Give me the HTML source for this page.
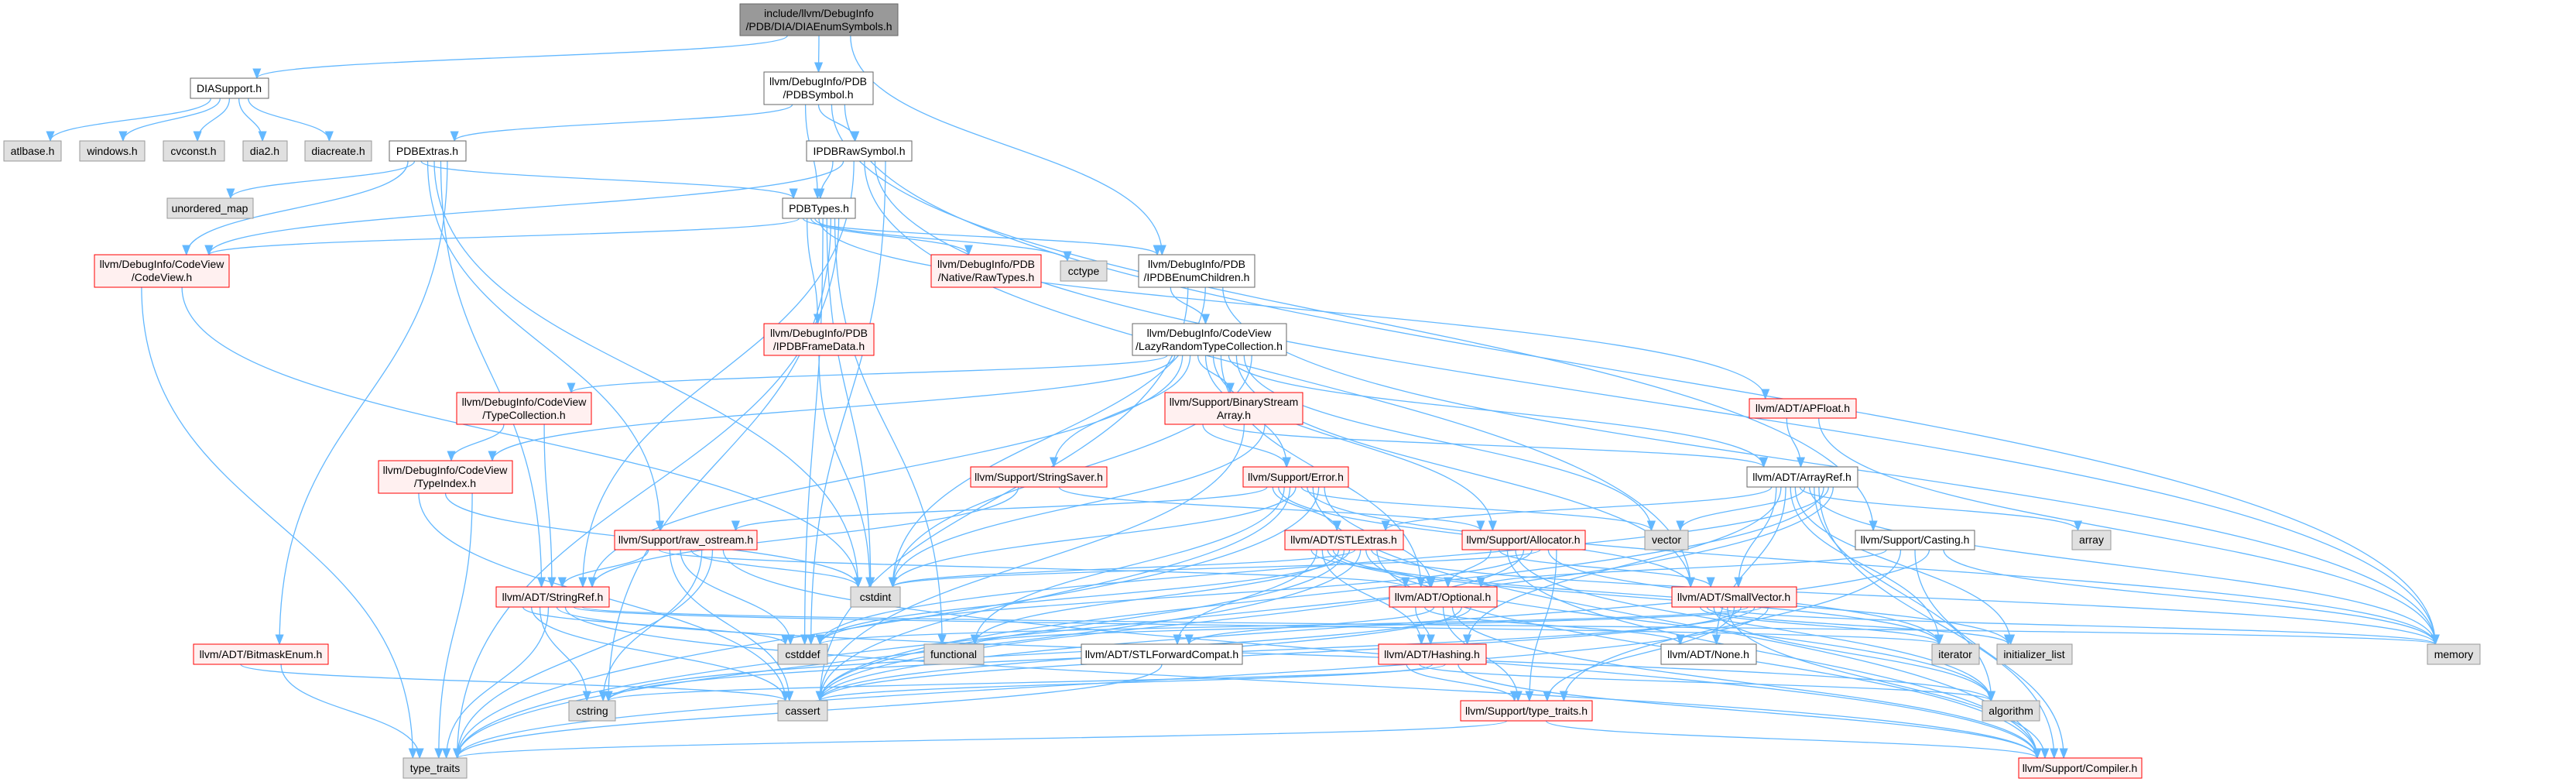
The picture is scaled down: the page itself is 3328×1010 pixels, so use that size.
<!DOCTYPE html>
<html><head><meta charset="utf-8"><style>
html,body{margin:0;padding:0;background:#fff;}
svg{display:block;}
text{font-family:"Liberation Sans",Arial,sans-serif;font-size:14px;fill:#000;}
</style></head><body>
<svg id="g" xmlns="http://www.w3.org/2000/svg" width="3328" height="1010" viewBox="0 0 3328 1010">
<defs><marker id="ah" viewBox="0 0 10 10" refX="9" refY="5" markerWidth="14" markerHeight="14" markerUnits="userSpaceOnUse" orient="auto"><path d="M0,1 L10,5 L0,9 z" fill="#63b8ff"/></marker></defs>
<g id="edges" fill="none" stroke="#63b8ff" stroke-width="1.3"></g>
<g id="nodes">
<rect x="956" y="5" width="204" height="41" fill="#999" stroke="#666"/><text x="1058" y="22" text-anchor="middle">include/llvm/DebugInfo</text><text x="1058" y="39" text-anchor="middle">/PDB/DIA/DIAEnumSymbols.h</text>
<rect x="246" y="101" width="101" height="26" fill="#fff" stroke="#666"/><text x="296" y="119" text-anchor="middle">DIASupport.h</text>
<rect x="987" y="93" width="141" height="42" fill="#fff" stroke="#666"/><text x="1057" y="110" text-anchor="middle">llvm/DebugInfo/PDB</text><text x="1057" y="127" text-anchor="middle">/PDBSymbol.h</text>
<rect x="5" y="182" width="74" height="26" fill="#e0e0e0" stroke="#999"/><text x="42" y="200" text-anchor="middle">atlbase.h</text>
<rect x="103" y="182" width="84" height="26" fill="#e0e0e0" stroke="#999"/><text x="145" y="200" text-anchor="middle">windows.h</text>
<rect x="211" y="182" width="79" height="26" fill="#e0e0e0" stroke="#999"/><text x="250" y="200" text-anchor="middle">cvconst.h</text>
<rect x="314" y="182" width="57" height="26" fill="#e0e0e0" stroke="#999"/><text x="342" y="200" text-anchor="middle">dia2.h</text>
<rect x="394" y="182" width="86" height="26" fill="#e0e0e0" stroke="#999"/><text x="437" y="200" text-anchor="middle">diacreate.h</text>
<rect x="503" y="182" width="99" height="26" fill="#fff" stroke="#666"/><text x="552" y="200" text-anchor="middle">PDBExtras.h</text>
<rect x="1042" y="182" width="136" height="26" fill="#fff" stroke="#666"/><text x="1110" y="200" text-anchor="middle">IPDBRawSymbol.h</text>
<rect x="216" y="256" width="111" height="26" fill="#e0e0e0" stroke="#999"/><text x="271" y="274" text-anchor="middle">unordered_map</text>
<rect x="1011" y="256" width="94" height="26" fill="#fff" stroke="#666"/><text x="1058" y="274" text-anchor="middle">PDBTypes.h</text>
<rect x="122" y="329" width="174" height="42" fill="#fff0f0" stroke="#f00"/><text x="209" y="346" text-anchor="middle">llvm/DebugInfo/CodeView</text><text x="209" y="363" text-anchor="middle">/CodeView.h</text>
<rect x="1203" y="329" width="142" height="42" fill="#fff0f0" stroke="#f00"/><text x="1274" y="346" text-anchor="middle">llvm/DebugInfo/PDB</text><text x="1274" y="363" text-anchor="middle">/Native/RawTypes.h</text>
<rect x="1370" y="337" width="60" height="26" fill="#e0e0e0" stroke="#999"/><text x="1400" y="355" text-anchor="middle">cctype</text>
<rect x="1471" y="329" width="150" height="42" fill="#fff" stroke="#666"/><text x="1546" y="346" text-anchor="middle">llvm/DebugInfo/PDB</text><text x="1546" y="363" text-anchor="middle">/IPDBEnumChildren.h</text>
<rect x="987" y="418" width="142" height="41" fill="#fff0f0" stroke="#f00"/><text x="1058" y="435" text-anchor="middle">llvm/DebugInfo/PDB</text><text x="1058" y="452" text-anchor="middle">/IPDBFrameData.h</text>
<rect x="1463" y="418" width="199" height="41" fill="#fff" stroke="#666"/><text x="1562" y="435" text-anchor="middle">llvm/DebugInfo/CodeView</text><text x="1562" y="452" text-anchor="middle">/LazyRandomTypeCollection.h</text>
<rect x="590" y="507" width="174" height="41" fill="#fff0f0" stroke="#f00"/><text x="677" y="524" text-anchor="middle">llvm/DebugInfo/CodeView</text><text x="677" y="541" text-anchor="middle">/TypeCollection.h</text>
<rect x="489" y="595" width="173" height="42" fill="#fff0f0" stroke="#f00"/><text x="575" y="612" text-anchor="middle">llvm/DebugInfo/CodeView</text><text x="575" y="629" text-anchor="middle">/TypeIndex.h</text>
<rect x="1505" y="507" width="178" height="41" fill="#fff0f0" stroke="#f00"/><text x="1594" y="524" text-anchor="middle">llvm/Support/BinaryStream</text><text x="1594" y="541" text-anchor="middle">Array.h</text>
<rect x="2260" y="515" width="138" height="25" fill="#fff0f0" stroke="#f00"/><text x="2329" y="532" text-anchor="middle">llvm/ADT/APFloat.h</text>
<rect x="1254" y="603" width="176" height="26" fill="#fff0f0" stroke="#f00"/><text x="1342" y="621" text-anchor="middle">llvm/Support/StringSaver.h</text>
<rect x="1606" y="603" width="136" height="26" fill="#fff0f0" stroke="#f00"/><text x="1674" y="621" text-anchor="middle">llvm/Support/Error.h</text>
<rect x="2257" y="603" width="143" height="26" fill="#fff" stroke="#666"/><text x="2328" y="621" text-anchor="middle">llvm/ADT/ArrayRef.h</text>
<rect x="794" y="685" width="184" height="25" fill="#fff0f0" stroke="#f00"/><text x="886" y="702" text-anchor="middle">llvm/Support/raw_ostream.h</text>
<rect x="1660" y="685" width="153" height="25" fill="#fff0f0" stroke="#f00"/><text x="1736" y="702" text-anchor="middle">llvm/ADT/STLExtras.h</text>
<rect x="1889" y="685" width="159" height="25" fill="#fff0f0" stroke="#f00"/><text x="1968" y="702" text-anchor="middle">llvm/Support/Allocator.h</text>
<rect x="2125" y="685" width="56" height="25" fill="#e0e0e0" stroke="#999"/><text x="2153" y="702" text-anchor="middle">vector</text>
<rect x="2397" y="685" width="154" height="25" fill="#fff" stroke="#666"/><text x="2474" y="702" text-anchor="middle">llvm/Support/Casting.h</text>
<rect x="2677" y="685" width="50" height="25" fill="#e0e0e0" stroke="#999"/><text x="2702" y="702" text-anchor="middle">array</text>
<rect x="641" y="758" width="146" height="26" fill="#fff0f0" stroke="#f00"/><text x="714" y="776" text-anchor="middle">llvm/ADT/StringRef.h</text>
<rect x="1099" y="758" width="64" height="26" fill="#e0e0e0" stroke="#999"/><text x="1131" y="776" text-anchor="middle">cstdint</text>
<rect x="1795" y="758" width="139" height="26" fill="#fff0f0" stroke="#f00"/><text x="1864" y="776" text-anchor="middle">llvm/ADT/Optional.h</text>
<rect x="2160" y="758" width="161" height="26" fill="#fff0f0" stroke="#f00"/><text x="2240" y="776" text-anchor="middle">llvm/ADT/SmallVector.h</text>
<rect x="250" y="832" width="174" height="26" fill="#fff0f0" stroke="#f00"/><text x="337" y="850" text-anchor="middle">llvm/ADT/BitmaskEnum.h</text>
<rect x="1005" y="832" width="64" height="26" fill="#e0e0e0" stroke="#999"/><text x="1037" y="850" text-anchor="middle">cstddef</text>
<rect x="1194" y="832" width="77" height="26" fill="#e0e0e0" stroke="#999"/><text x="1232" y="850" text-anchor="middle">functional</text>
<rect x="1397" y="832" width="208" height="26" fill="#fff" stroke="#666"/><text x="1501" y="850" text-anchor="middle">llvm/ADT/STLForwardCompat.h</text>
<rect x="1781" y="832" width="139" height="26" fill="#fff0f0" stroke="#f00"/><text x="1850" y="850" text-anchor="middle">llvm/ADT/Hashing.h</text>
<rect x="2146" y="832" width="123" height="26" fill="#fff" stroke="#666"/><text x="2207" y="850" text-anchor="middle">llvm/ADT/None.h</text>
<rect x="2496" y="832" width="61" height="26" fill="#e0e0e0" stroke="#999"/><text x="2526" y="850" text-anchor="middle">iterator</text>
<rect x="2580" y="832" width="97" height="26" fill="#e0e0e0" stroke="#999"/><text x="2628" y="850" text-anchor="middle">initializer_list</text>
<rect x="3136" y="832" width="68" height="26" fill="#e0e0e0" stroke="#999"/><text x="3170" y="850" text-anchor="middle">memory</text>
<rect x="735" y="905" width="60" height="26" fill="#e0e0e0" stroke="#999"/><text x="765" y="923" text-anchor="middle">cstring</text>
<rect x="1005" y="905" width="64" height="26" fill="#e0e0e0" stroke="#999"/><text x="1037" y="923" text-anchor="middle">cassert</text>
<rect x="1887" y="905" width="170" height="26" fill="#fff0f0" stroke="#f00"/><text x="1972" y="923" text-anchor="middle">llvm/Support/type_traits.h</text>
<rect x="2561" y="905" width="74" height="26" fill="#e0e0e0" stroke="#999"/><text x="2598" y="923" text-anchor="middle">algorithm</text>
<rect x="521" y="979" width="82" height="26" fill="#e0e0e0" stroke="#999"/><text x="562" y="997" text-anchor="middle">type_traits</text>
<rect x="2608" y="979" width="159" height="26" fill="#fff0f0" stroke="#f00"/><text x="2687" y="997" text-anchor="middle">llvm/Support/Compiler.h</text>
</g>
</svg>
<script>
var N={main:[956,5,204,41],dia:[246,101,101,26],sym:[987,93,141,42],atl:[5,182,74,26],win:[103,182,84,26],cvc:[211,182,79,26],dia2:[314,182,57,26],diac:[394,182,86,26],ext:[503,182,99,26],raw:[1042,182,136,26],umap:[216,256,111,26],types:[1011,256,94,26],cv:[122,329,174,42],rawt:[1203,329,142,42],cct:[1370,337,60,26],enm:[1471,329,150,42],frame:[987,418,142,41],lazy:[1463,418,199,41],tcol:[590,507,174,41],tidx:[489,595,173,42],bsa:[1505,507,178,41],apf:[2260,515,138,25],ssv:[1254,603,176,26],err:[1606,603,136,26],aref:[2257,603,143,26],ros:[794,685,184,25],stlx:[1660,685,153,25],alloc:[1889,685,159,25],vec:[2125,685,56,25],cast:[2397,685,154,25],arr:[2677,685,50,25],sref:[641,758,146,26],cint:[1099,758,64,26],opt:[1795,758,139,26],svec:[2160,758,161,26],bme:[250,832,174,26],cdef:[1005,832,64,26],func:[1194,832,77,26],stlf:[1397,832,208,26],hash:[1781,832,139,26],none:[2146,832,123,26],iter:[2496,832,61,26],init:[2580,832,97,26],mem:[3136,832,68,26],cstr:[735,905,60,26],cas:[1005,905,64,26],stt:[1887,905,170,26],alg:[2561,905,74,26],tt:[521,979,82,26],comp:[2608,979,159,26]};
var E={main:['dia','sym','enm'],dia:['atl','win','cvc','dia2','diac'],sym:['ext','types','raw','cast','mem'],
ext:['cv','umap','types','ros','cint','sref','bme'],raw:['types','cv','sref','svec','mem','cdef'],
types:['cv','enm','frame','rawt','cct','apf','cdef','cint','cstr','func','tt'],cv:['tt','cint'],enm:['lazy','cas','cint','mem'],frame:['cint'],
lazy:['tcol','tidx','sref','ssv','bsa','err','alloc','opt','aref','svec','vec','cint'],tcol:['tidx','sref'],tidx:['cas','cint','tt'],
bsa:['err','aref','cas','cint'],ssv:['sref','alloc'],err:['ros','stlx','svec','func','cas','cint','vec','mem','comp','tt','opt'],
apf:['aref','mem'],aref:['stlx','svec','hash','none','iter','init','arr','vec','mem','alg','comp','cas','cdef','tt'],
ros:['sref','opt','cas','cdef','cint','cstr','tt','comp'],stlx:['opt','stlf','hash','iter','init','func','cas','cdef','cint','tt','alg','mem','comp'],
alloc:['opt','svec','comp','alg','cas','cdef','cint','iter','stt'],cast:['opt','stt','comp','cas','mem'],
opt:['hash','none','stlf','stt','comp','cas','cstr'],svec:['iter','init','alg','mem','comp','stt','cas','cdef','cstr','func','tt'],
sref:['cdef','cas','cstr','tt','alg','comp','iter','mem'],hash:['stt','alg','cas','cstr','comp'],stlf:['tt'],stt:['tt','comp'],bme:['cas','tt']};
var g=document.getElementById('edges'),s='';
function cl(v,a,b){return Math.max(a,Math.min(b,v));}
for(var a in E){var A=N[a];E[a].forEach(function(b,i){var B=N[b];
var sx=A[0]+A[2]*(0.2+0.6*((i+0.5)/E[a].length)),sy=A[1]+A[3];
var tcx=B[0]+B[2]/2,tx,ty,d;
if(B[1]-sy>30){tx=tcx+cl((sx-tcx)*0.1,-B[2]*0.35,B[2]*0.35);ty=B[1];var dy=ty-sy;
d='M'+sx+','+sy+' C'+sx+','+(sy+dy*0.5)+' '+tx+','+(ty-dy*0.5)+' '+tx+','+ty;}
else{var left=(sx<tcx);tx=left?B[0]:B[0]+B[2];ty=B[1]+B[3]/2;
if(B[1]+B[3]<A[1]){sy=A[1];}
d='M'+sx+','+sy+' C'+sx+','+(sy+(ty-sy)*0.6)+' '+(tx+(left?-60:60))+','+ty+' '+tx+','+ty;}
s+='<path d="'+d+'" marker-end="url(#ah)"/>';});}
g.innerHTML=s;
</script>
</body></html>
